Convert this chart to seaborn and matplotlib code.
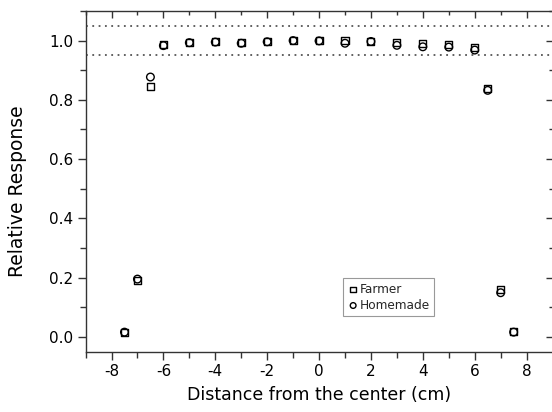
import matplotlib
matplotlib.use("Agg")
import matplotlib.pyplot as plt
import seaborn as sns
import pandas as pd
from matplotlib.ticker import MultipleLocator

distance = [-7.5, -7, -6.5, -6, -5, -4, -3, -2, -1, 0, 1, 2, 3, 4, 5, 6, 6.5, 7, 7.5]
farmer = [0.015, 0.190, 0.845, 0.986, 0.995, 0.997, 0.995, 0.998, 1.000, 1.000,
          1.000, 0.998, 0.993, 0.989, 0.988, 0.976, 0.839, 0.159, 0.017]
homemade = [0.016, 0.195, 0.877, 0.983, 0.993, 0.995, 0.991, 0.996, 1.000, 0.999,
            0.991, 0.997, 0.984, 0.979, 0.978, 0.968, 0.832, 0.149, 0.016]
ref_lines = [0.95, 1.05]
x_ticks = [-8, -6, -4, -2, 0, 2, 4, 6, 8]
y_ticks = [0.0, 0.2, 0.4, 0.6, 0.8, 1.0]

sns.set_theme(style="white")
plt.rcParams['font.family'] = ['DejaVu Sans']

fig = plt.figure(figsize=(5.52, 4.12), dpi=100)
ax = fig.add_axes([0.155, 0.1464, 0.846, 0.827])

df_f = pd.DataFrame({"x": distance, "y": farmer})
df_h = pd.DataFrame({"x": distance, "y": homemade})

for yv in ref_lines:
    ax.axhline(yv, color="#555555", linestyle=(0, (1, 2.5)), linewidth=1.3, zorder=1)

sns.scatterplot(data=df_f, x="x", y="y", marker="s", s=26, facecolor="none",
                edgecolor="black", linewidth=1.0, label="Farmer", ax=ax, zorder=3)
sns.scatterplot(data=df_h, x="x", y="y", marker="o", s=30, facecolor="none",
                edgecolor="black", linewidth=1.0, label="Homemade", ax=ax, zorder=3)

ax.set_xlim(-9, 9)
ax.set_ylim(-0.05, 1.1)
ax.xaxis.set_minor_locator(MultipleLocator(1))
ax.yaxis.set_minor_locator(MultipleLocator(0.1))
ax.set_xticks(x_ticks)
ax.set_xticklabels([str(v) for v in x_ticks])
ax.set_yticks(y_ticks)
ax.set_yticklabels([f"{v:.1f}" for v in y_ticks])

ax.tick_params(which="both", direction="out", color="#333333", labelsize=11,
               labelcolor="black", bottom=True, left=True)
ax.tick_params(which="major", length=6, width=1, pad=3)
ax.tick_params(which="minor", length=4, width=1)

for sp in ax.spines.values():
    sp.set_color("#333333")
    sp.set_linewidth(1.0)

secx = ax.secondary_xaxis("top")
secx.set_xticks(x_ticks)
secx.xaxis.set_minor_locator(MultipleLocator(1))
secx.tick_params(which="both", direction="in", labeltop=False, color="#333333")
secx.tick_params(which="major", length=5, width=1)
secx.tick_params(which="minor", length=3, width=1)
secx.spines["top"].set_visible(False)
secy = ax.secondary_yaxis("right")
secy.set_yticks(y_ticks)
secy.yaxis.set_minor_locator(MultipleLocator(0.1))
secy.tick_params(which="both", direction="in", labelright=False, color="#333333")
secy.tick_params(which="major", length=5, width=1)
secy.tick_params(which="minor", length=3, width=1)
secy.spines["right"].set_visible(False)

ax.set_xlabel("Distance from the center (cm)", fontsize=12.5, color="black", labelpad=5)
ax.set_ylabel("Relative Response", fontsize=13.5, color="black")
ax.yaxis.set_label_coords(-0.125, 0.47)

leg = ax.legend(loc="lower left", bbox_to_anchor=(0.551, 0.105), fontsize=8.7,
                frameon=True, fancybox=False, framealpha=1, edgecolor="#999999",
                handletextpad=0.05, handlelength=1.0, borderpad=0.35,
                labelspacing=0.25, markerscale=0.75, borderaxespad=0)
leg.get_frame().set_linewidth(0.8)

fig.savefig("out.png", dpi=100)
